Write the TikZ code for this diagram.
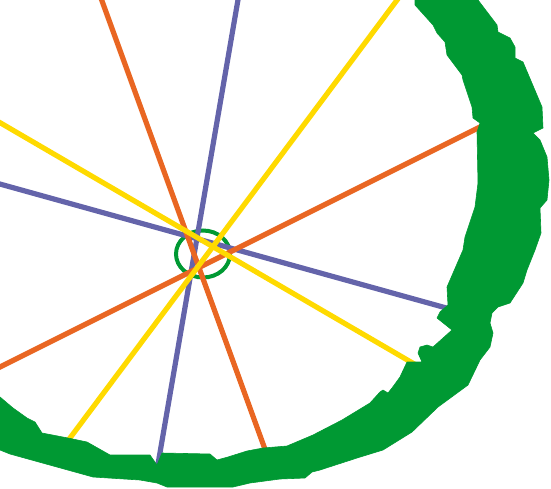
\documentclass[tikz,border=0pt]{standalone}
\usetikzlibrary{shapes.geometric}
\definecolor{rimgreen}{RGB}{0,153,51}
\definecolor{spokeorange}{RGB}{233,102,34}
\definecolor{spokepurple}{RGB}{100,100,170}
\definecolor{spokeyellow}{RGB}{255,218,0}
\tikzset{
  spoke/.style={line width=5.2pt},
  orangespoke/.style={spoke, draw=spokeorange},
  purplespoke/.style={spoke, draw=spokepurple},
  yellowspoke/.style={spoke, draw=spokeyellow},
  rim/.style={fill=rimgreen, draw=rimgreen, line width=0.6pt, line join=round},
  hub/.style={draw=rimgreen, line width=4pt}
}
\begin{document}
\begin{tikzpicture}[x=1pt,y=-1pt]
\useasboundingbox (0,0) rectangle (551,488);
\clip (0,0) rectangle (551,488);
% hub
\node[hub, ellipse, minimum width=54pt, minimum height=47pt, inner sep=0pt] (hubc) at (203,254) {};
% spoke end points
\coordinate (p1a) at (241.4,-20); \coordinate (p1b) at (157,470);
\coordinate (p2a) at (-20,178.5); \coordinate (p2b) at (450,309);
\coordinate (o1a) at (94.4,-20);  \coordinate (o1b) at (266,452);
\coordinate (o2a) at (-20,377);   \coordinate (o2b) at (482,126);
\coordinate (y1a) at (412,-20);   \coordinate (y1b) at (67,442);
\coordinate (y2a) at (-20,111);   \coordinate (y2b) at (416,365);
% spokes
\draw[purplespoke] (p1a) -- (p1b);
\draw[purplespoke] (p2a) -- (p2b);
\draw[orangespoke] (o1a) -- (o1b);
\draw[orangespoke] (o2a) -- (o2b);
\draw[yellowspoke] (y1a) -- (y1b);
\draw[yellowspoke] (y2a) -- (y2b);
% rim
\draw[rim]
 (415,-5) -- (415,5) -- (433,25) -- (437,33) -- (445,42) -- (447,55) -- (462,75) -- (463,80)
 -- (472,107) -- (473,118) -- (480,123) -- (477,132) -- (478,183) -- (475,207) -- (465,237)
 -- (463,250) -- (447,287) -- (448,305) -- (440,312) -- (437,318) -- (452,330) -- (433,347)
 -- (427,345) -- (420,347) -- (418,353) -- (422,362) -- (407,362) -- (400,377) -- (392,388)
 -- (388,393) -- (383,390) -- (380,392) -- (370,403) -- (342,420) -- (313,435) -- (287,446)
 -- (263,448) -- (247,451) -- (228,457) -- (217,460) -- (210,454) -- (162,453) -- (157,465)
 -- (150,455) -- (110,455) -- (87,442) -- (68,438) -- (42,433) -- (35,422) -- (27,418)
 -- (13,408) -- (0,397) -- (-5,394) -- (-5,450)
 -- (0,450) -- (10,454) -- (93,477) -- (140,480) -- (157,483) -- (167,487) -- (233,487)
 -- (250,483) -- (280,479) -- (305,478) -- (312,472) -- (320,470) -- (357,458) -- (383,450)
 -- (412,432) -- (438,407) -- (468,385) -- (480,360) -- (490,347) -- (493,333) -- (490,323)
 -- (492,313) -- (498,307) -- (510,303) -- (523,283) -- (527,270) -- (535,250) -- (541,233)
 -- (540,208) -- (547,200) -- (549,180) -- (547,157) -- (540,140) -- (533,133) -- (543,128)
 -- (542,107) -- (523,62) -- (515,58) -- (515,47) -- (510,38) -- (498,32) -- (497,25)
 -- (478,0) -- (474,-5) -- cycle;
\end{tikzpicture}
\end{document}
